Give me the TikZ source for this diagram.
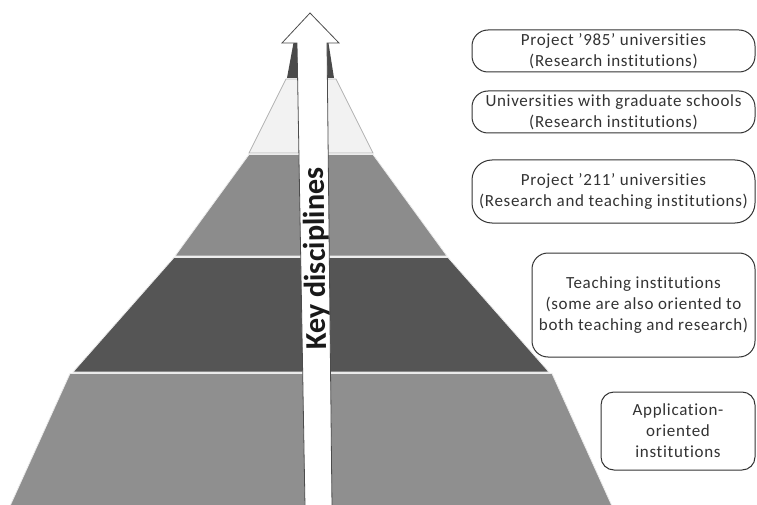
\documentclass[tikz,border=0pt]{standalone}
\usepackage{fontspec}
\setmainfont{Carlito}
\newfontfamily\boxfont[LetterSpace=4,Ligatures={TeX,NoCommon}]{Carlito}
\definecolor{tipc}{HTML}{4A4A4A}
\definecolor{lightc}{HTML}{F2F2F2}
\definecolor{midc}{HTML}{8C8C8C}
\definecolor{darkc}{HTML}{555555}
\definecolor{basec}{HTML}{8F8F8F}
\definecolor{txt}{HTML}{333333}
\begin{document}
\begin{tikzpicture}[x=1pt,y=-1pt,
  layer/.style={draw=white!85!gray, line width=0.8pt},
  infobox/.style={draw=black!80, line width=1pt, fill=white, text=txt,
    align=center, inner sep=0pt, font=\boxfont\fontsize{17}{21}\selectfont},
  arrowc/.style={draw=black!70, fill=white, line width=0.8pt}]
\useasboundingbox (0,0) rectangle (757,505);
% pyramid layers
\fill[tipc] (294,40) -- (328,40) -- (334,78) -- (287,78) -- cycle;
\filldraw[fill=lightc, draw=gray!60, line width=0.8pt] (286,79) -- (336,79) -- (373,153) -- (249,153) -- cycle;
\filldraw[layer, fill=midc] (249,154.5) -- (373,154.5) -- (447,256) -- (175,256) -- cycle;
\filldraw[layer, fill=darkc] (174,257.5) -- (448,257.5) -- (549,372) -- (73,372) -- cycle;
\filldraw[layer, fill=basec] (70,373.5) -- (552,373.5) -- (612,506) -- (10,506) -- cycle;
% arrow
\filldraw[arrowc] (305,507) -- (297,43) -- (282,43) -- (310,13) -- (339,43) -- (327,43) -- (332,507) -- cycle;
\node[rotate=90.75, anchor=base, inner sep=0pt, font=\fontsize{30.3}{34}\selectfont\bfseries, text=black!90] (key) at (325,258.5) {Key disciplines};
% boxes
\node[infobox, rounded corners=16pt, minimum width=283pt, minimum height=42pt] (b1) at (613.5,51) {Project '985' universities\\(Research institutions)};
\node[infobox, rounded corners=16pt, minimum width=283pt, minimum height=42pt] (b2) at (613.5,112) {Universities with graduate schools\\(Research institutions)};
\node[infobox, rounded corners=20pt, minimum width=283pt, minimum height=63pt] (b3) at (613.5,191.5) {Project '211' universities\\(Research and teaching institutions)};
\node[infobox, rounded corners=16pt, minimum width=223pt, minimum height=104pt] (b4) at (643.5,305) {Teaching institutions\\(some are also oriented to\\both teaching and research)};
\node[infobox, rounded corners=13pt, minimum width=154pt, minimum height=78pt] (b5) at (678,431) {Application-\\oriented\\institutions};
\end{tikzpicture}
\end{document}
